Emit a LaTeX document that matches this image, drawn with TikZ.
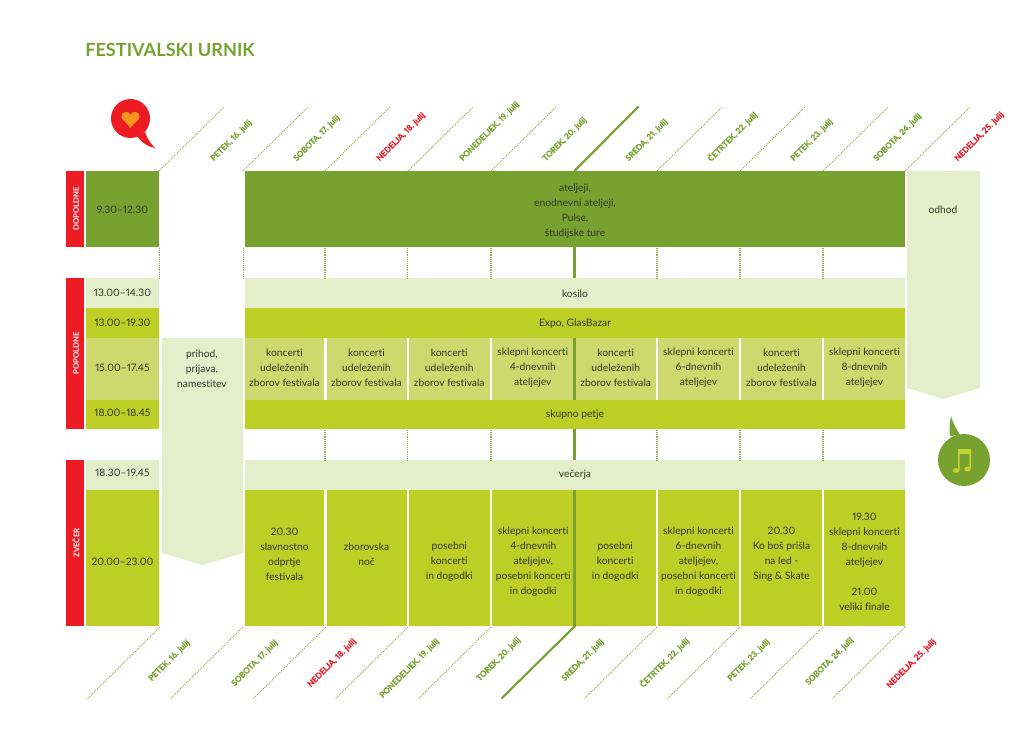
\documentclass[tikz,border=0pt]{standalone}
\usepackage{fontspec}
\setmainfont[Numbers=Proportional,Ligatures=NoCommon]{Lato}
\definecolor{dgreen}{HTML}{77A22F}
\definecolor{lime}{HTML}{BDCF25}
\definecolor{midl}{HTML}{CDD96C}
\definecolor{pale}{HTML}{E5EECA}
\definecolor{rred}{HTML}{ED1C24}
\definecolor{ink}{HTML}{34362B}
\definecolor{org}{HTML}{F7941D}
\definecolor{note}{HTML}{C3D32F}
\definecolor{dots}{HTML}{8CAE4C}
\tikzset{
  x=0.75pt,y=-0.75pt,
  box/.style={rectangle,inner sep=0pt,outer sep=0pt,draw=none},
  lbl/.style={inner sep=0pt,align=center,text=ink,font=\fontsize{7.7}{11.25}\selectfont},
  sidelbl/.style={inner sep=0pt,rotate=90,text=white,font=\bfseries\fontsize{5.8}{7}\selectfont},
  datelbl/.style={inner sep=0pt,anchor=west,rotate=45,font=\bfseries\fontsize{6.1}{7}\selectfont\addfontfeature{FakeBold=0.4}},
  wk/.style={datelbl,text=dgreen},
  we/.style={datelbl,text=rred},
  diag/.style={draw=dots,line width=0.7pt,dash pattern=on 0.8pt off 0.8pt},
  vdot/.style={draw=dots,line width=1.3pt,dash pattern=on 0.7pt off 0.7pt},
  mainline/.style={draw=dgreen,line width=1.6pt},
}
\newcommand{\cell}[8]{%
  \node[box,fill=#6,minimum width={(#4-#2)*0.75pt},minimum height={(#5-#3)*0.75pt}] (#1) at ({(#2+#4)/2},{(#3+#5)/2}) {};
  \node[lbl] (#1-t) at ({(#2+#4)/2},{#7+1}) {#8};}
\begin{document}
\begin{tikzpicture}
\useasboundingbox (0,0) rectangle (1024,742);
\fill[white] (0,0) rectangle (1024,742);

\node[inner sep=0pt,anchor=west,text=dgreen,font=\bfseries\fontsize{13.6}{15}\selectfont] (title) at (85,49.5) {FESTIVALSKI URNIK};

% icons
\fill[rred] (130.5,118.5) circle [radius=19.5];
\fill[rred] (137,136) .. controls (143,144) and (149,147) .. (155,148) .. controls (150,143) and (147,138) .. (145,132) -- cycle;
\fill[org] (130.5,128) .. controls (126,122) and (121.5,120) .. (121.5,116.5) .. controls (121.5,111) and (128.5,110.5) .. (130.5,114.5) .. controls (132.5,110.5) and (139.5,111) .. (139.5,116.5) .. controls (139.5,120) and (135,122) .. (130.5,128) -- cycle;
\fill[dgreen] (964,460) circle [radius=26];
\fill[dgreen] (950,436) .. controls (949,428) and (950,422) .. (951,416) .. controls (953,424) and (957,430) .. (960,435) -- cycle;
\fill[note] (958,449) -- (971,449) -- (971,469) -- (969.4,469) -- (969.4,454) -- (959.6,454) -- (959.6,470) -- (958,470) -- cycle;
\fill[note] (956,470.5) ellipse [x radius=3.2,y radius=2.4];
\fill[note] (967.5,469) ellipse [x radius=3.2,y radius=2.4];

% side bands
\node[box,fill=rred,minimum width=13.5pt,minimum height={76*0.75pt}] (sa) at (75,209) {};
\node[box,fill=rred,minimum width=13.5pt,minimum height={151*0.75pt}] (sb) at (75,353.5) {};
\node[box,fill=rred,minimum width=13.5pt,minimum height={166*0.75pt}] (sc) at (75,543) {};
\node[sidelbl] (sat) at (76,209) {DOPOLDNE};
\node[sidelbl] (sbt) at (76,353) {POPOLDNE};
\node[sidelbl] (sct) at (76,543) {ZVEČER};

% time column
\cell{t1}{86}{171}{159}{247}{dgreen}{209}{9.30–12.30}
\cell{t2}{86}{278}{159}{308}{pale}{292}{13.00–14.30}
\cell{t3}{86}{308}{159}{338}{lime}{322}{13.00–19.30}
\cell{t4}{86}{338}{159}{400}{midl}{367}{15.00–17.45}
\cell{t5}{86}{400}{159}{429}{lime}{412}{18.00–18.45}
\cell{t6}{86}{460}{159}{490}{pale}{472}{18.30–19.45}
\cell{t7}{86}{490}{159}{626}{lime}{561}{20.00–23.00}

% arrows
\fill[pale] (162,338) -- (243,338) -- (243,553) -- (202.5,565) -- (162,553) -- cycle;
\node[lbl] (prihod) at (202,369) {prihod,\\prijava,\\namestitev};
\fill[pale] (907,171) -- (980,171) -- (980,388) -- (943,399) -- (907,388) -- cycle;
\node[lbl] (odhod) at (943,210) {odhod};

% full-width bands
\cell{r1}{245}{171}{905}{247}{dgreen}{210}{ateljeji,\\enodnevni ateljeji,\\Pulse,\\študijske ture}
\cell{r2}{245}{278}{905}{308}{pale}{293}{kosilo}
\cell{r3}{245}{308}{905}{338}{lime}{323}{Expo, GlasBazar}
\cell{r5}{245}{400}{905}{429}{lime}{414}{skupno petje}
\cell{r6}{245}{460}{905}{490}{pale}{474}{večerja}

% afternoon cells
\cell{a1}{245}{338}{324}{400}{midl}{367}{koncerti\\udeleženih\\zborov festivala}
\cell{a2}{326.5}{338}{406.5}{400}{midl}{367}{koncerti\\udeleženih\\zborov festivala}
\cell{a3}{408.5}{338}{490}{400}{midl}{367}{koncerti\\udeleženih\\zborov festivala}
\cell{a4}{492}{338}{573.5}{400}{midl}{367}{sklepni koncerti\\4-dnevnih\\ateljejev}
\cell{a5}{575.5}{338}{656}{400}{midl}{367}{koncerti\\udeleženih\\zborov festivala}
\cell{a6}{658}{338}{739}{400}{midl}{367}{sklepni koncerti\\6-dnevnih\\ateljejev}
\cell{a7}{741}{338}{822}{400}{midl}{367}{koncerti\\udeleženih\\zborov festivala}
\cell{a8}{824}{338}{905}{400}{midl}{367}{sklepni koncerti\\8-dnevnih\\ateljejev}

% evening cells
\cell{e1}{245}{490}{324}{626}{lime}{553}{20.30\\slavnostno\\odprtje\\festivala}
\cell{e2}{326.5}{490}{406.5}{626}{lime}{553.5}{zborovska\\noč}
\cell{e3}{408.5}{490}{490}{626}{lime}{560.5}{posebni\\koncerti\\in dogodki}
\cell{e4}{492}{490}{574.5}{626}{lime}{561}{sklepni koncerti\\4-dnevnih\\ateljejev,\\posebni koncerti\\in dogodki}
\cell{e5}{574.5}{490}{656}{626}{lime}{560.5}{posebni\\koncerti\\in dogodki}
\cell{e6}{658}{490}{739}{626}{lime}{561}{sklepni koncerti\\6-dnevnih\\ateljejev,\\posebni koncerti\\in dogodki}
\cell{e7}{741}{490}{822}{626}{lime}{553}{20.30\\Ko boš prišla\\na led -\\Sing \& Skate}
\cell{e8}{824}{490}{905}{626}{lime}{561}{19.30\\sklepni koncerti\\8-dnevnih\\ateljejev\\~\\21.00\\veliki finale}

% vertical separators
\foreach \n/\x in {a/159.5,b/243.5,c/325,d/407.5,e/491,g/657,h/740,i/823}{
  \coordinate (ga\n) at (\x,248);
  \coordinate (gb\n) at (\x,278);
  \draw[vdot] (ga\n) -- (gb\n);
}
\foreach \n/\x in {c/325,d/407.5,e/491,g/657,h/740,i/823}{
  \coordinate (ha\n) at (\x,430);
  \coordinate (hb\n) at (\x,460);
  \draw[vdot] (ha\n) -- (hb\n);
}
\coordinate (m1) at (574.5,247); \coordinate (m2) at (574.5,278);
\coordinate (m3) at (574.5,338); \coordinate (m4) at (574.5,400);
\coordinate (m5) at (574.5,429); \coordinate (m6) at (574.5,460);
\coordinate (m7) at (574.5,490); \coordinate (m8) at (574.5,626);
\draw[mainline] (m1) -- (m2);
\draw[mainline] (m3) -- (m4);
\draw[mainline] (m5) -- (m6);
\draw[mainline] (m7) -- (m8);

% diagonals
\foreach \n/\x in {a/159,b/243,c/325,d/408,e/491,g/657,h/740,i/823,j/905}{
  \coordinate (ua\n) at (\x,171);
  \coordinate (ub\n) at ({\x+65},107);
  \draw[diag] (ua\n) -- (ub\n);
}
\foreach \n/\x in {a/160,b/243,c/326,d/408,e/491,g/657,h/740,i/823,j/905}{
  \coordinate (da\n) at (\x,627);
  \coordinate (db\n) at ({\x-73},699);
  \draw[diag] (da\n) -- (db\n);
}
\coordinate (mu1) at (574.5,171); \coordinate (mu2) at (638,107);
\coordinate (md1) at (575,626); \coordinate (md2) at (502,698);
\draw[mainline,line cap=round] (mu1) -- (mu2);
\draw[mainline,line cap=round] (md1) -- (md2);

% date labels, top
\node[wk] (ta) at (212,160) {PETEK, 16. julij};
\node[wk] (tb) at (295,160) {SOBOTA, 17. julij};
\node[we] (tc) at (378,160) {NEDELJA, 18. julij};
\node[wk] (td) at (461,160) {PONEDELJEK, 19. julij};
\node[wk] (te) at (544,160) {TOREK, 20. julij};
\node[wk] (tf) at (627,160) {SREDA, 21. julij};
\node[wk] (tg) at (709,160) {ČETRTEK, 22. julij};
\node[wk] (th) at (792,160) {PETEK, 23. julij};
\node[wk] (ti) at (875,160) {SOBOTA, 24. julij};
\node[we] (tj) at (956,160) {NEDELJA, 25. julij};
% date labels, bottom
\node[wk] (ba) at (150,680) {PETEK, 16. julij};
\node[wk] (bb) at (233,685) {SOBOTA, 17. julij};
\node[we] (bc) at (309,686) {NEDELJA, 18. julij};
\node[wk] (bd) at (381,697) {PONEDELJEK, 19. julij};
\node[wk] (be) at (478,680) {TOREK, 20. julij};
\node[wk] (bf) at (563,680) {SREDA, 21. julij};
\node[wk] (bg) at (641,686) {ČETRTEK, 22. julij};
\node[wk] (bh) at (729,680) {PETEK, 23. julij};
\node[wk] (bi) at (807,684) {SOBOTA, 24. julij};
\node[we] (bj) at (888,687) {NEDELJA, 25. julij};
\end{tikzpicture}
\end{document}
